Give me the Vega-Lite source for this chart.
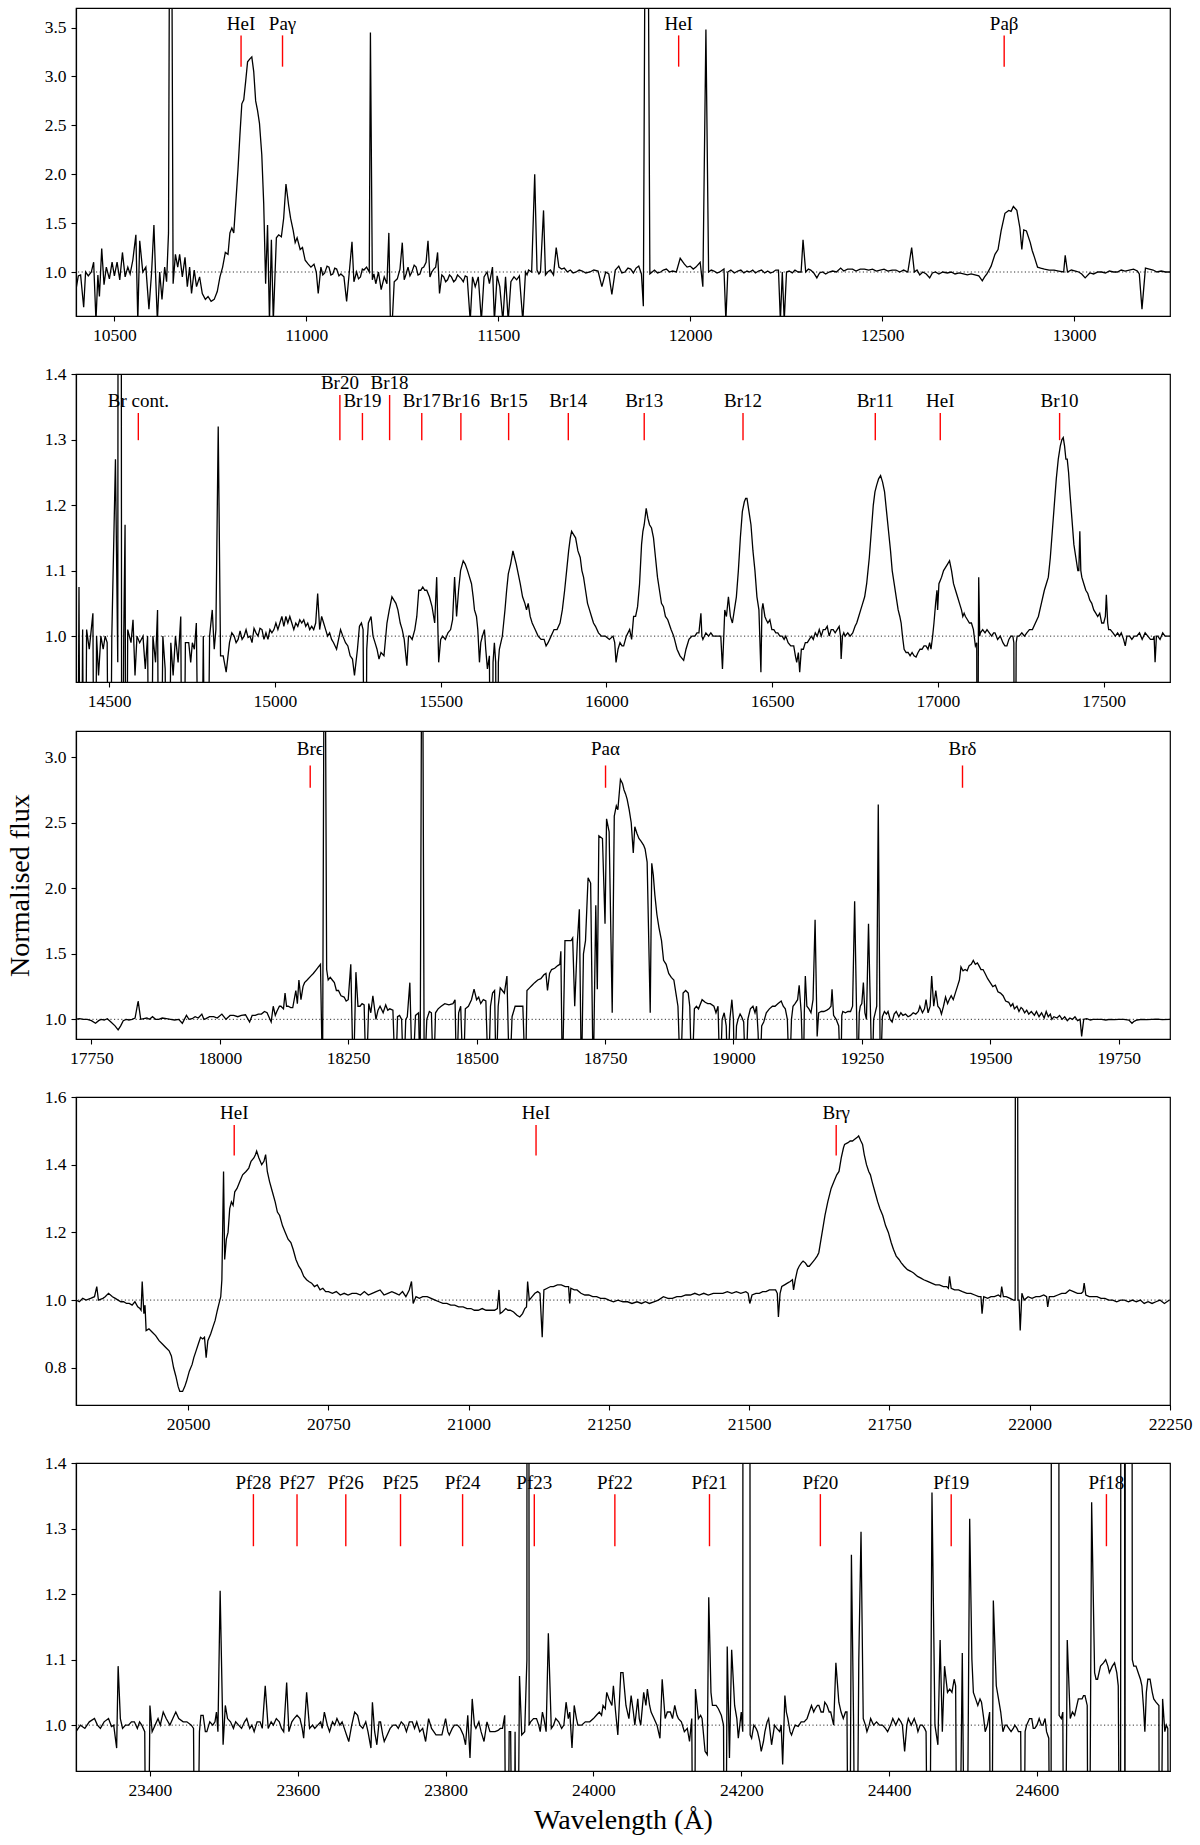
{
"$schema": "https://vega.github.io/schema/vega-lite/v6.json",
"padding": {"left": 5, "top": 7, "right": 5, "bottom": 5},
"spacing": 19,
"config": {
 "font": "Liberation Serif",
 "view": {"stroke": "black", "strokeWidth": 1.2},
 "axis": {"grid": false, "domainColor": "black", "domainWidth": 1.2, "tickColor": "black", "tickWidth": 1.1, "tickSize": 5, "labelColor": "black", "labelFont": "Liberation Serif", "labelFontSize": 17.5, "labelPadding": 5, "titleColor": "black", "titleFont": "Liberation Serif", "titleFontSize": 28, "titleFontWeight": "normal", "labelFlush": false, "labelOverlap": false}
},
"datasets": {
"l1": [{"n":"HeI","w":10830},{"n":"Paγ","w":10938},{"n":"HeI","w":11970},{"n":"Paβ","w":12818}],
"l2": [{"n":"Br cont.","w":14588,"tier":"low"},{"n":"Br20","w":15196,"tier":"high"},{"n":"Br19","w":15264,"tier":"low"},{"n":"Br18","w":15346,"tier":"high"},{"n":"Br17","w":15443,"tier":"low"},{"n":"Br16","w":15561,"tier":"low"},{"n":"Br15","w":15705,"tier":"low"},{"n":"Br14","w":15885,"tier":"low"},{"n":"Br13","w":16114,"tier":"low"},{"n":"Br12","w":16412,"tier":"low"},{"n":"Br11","w":16811,"tier":"low"},{"n":"HeI","w":17007,"tier":"low"},{"n":"Br10","w":17367,"tier":"low"}],
"l3": [{"n":"Brϵ","w":18176},{"n":"Paα","w":18751},{"n":"Brδ","w":19446}],
"l4": [{"n":"HeI","w":20582},{"n":"HeI","w":21120},{"n":"Brγ","w":21655}],
"l5": [{"n":"Pf28","w":23540},{"n":"Pf27","w":23599},{"n":"Pf26","w":23665},{"n":"Pf25","w":23739},{"n":"Pf24","w":23823},{"n":"Pf23","w":23920},{"n":"Pf22","w":24029},{"n":"Pf21","w":24157},{"n":"Pf20","w":24307},{"n":"Pf19","w":24484},{"n":"Pf18","w":24694}],
"s1": [{"w":10399,"f":0.80},{"w":10406,"f":0.96},{"w":10412,"f":0.97},{"w":10420,"f":0.64},{"w":10425,"f":1.0},{"w":10432,"f":0.96},{"w":10440,"f":1.0},{"w":10446,"f":1.1},{"w":10452,"f":0.5},{"w":10457,"f":0.97},{"w":10461,"f":0.75},{"w":10467,"f":1.24},{"w":10473,"f":0.87},{"w":10479,"f":1.05},{"w":10487,"f":0.93},{"w":10494,"f":1.1},{"w":10500,"f":0.96},{"w":10507,"f":1.1},{"w":10514,"f":0.92},{"w":10521,"f":1.2},{"w":10528,"f":0.95},{"w":10535,"f":1.05},{"w":10541,"f":0.98},{"w":10548,"f":1.12},{"w":10556,"f":1.38},{"w":10561,"f":0.5},{"w":10566,"f":1.32},{"w":10574,"f":1.0},{"w":10582,"f":1.05},{"w":10590,"f":0.62},{"w":10597,"f":1.0},{"w":10603,"f":1.48},{"w":10608,"f":0.9},{"w":10612,"f":0.5},{"w":10618,"f":1.0},{"w":10624,"f":0.72},{"w":10631,"f":1.05},{"w":10636,"f":0.9},{"w":10641,"f":1.4},{"w":10644,"f":5},{"w":10649,"f":5},{"w":10653,"f":0.88},{"w":10659,"f":1.18},{"w":10665,"f":1.05},{"w":10670,"f":1.18},{"w":10677,"f":0.95},{"w":10684,"f":1.15},{"w":10690,"f":0.85},{"w":10696,"f":1.05},{"w":10701,"f":0.78},{"w":10708,"f":1.02},{"w":10714,"f":0.85},{"w":10722,"f":0.95},{"w":10729,"f":0.78},{"w":10737,"f":0.72},{"w":10744,"f":0.75},{"w":10752,"f":0.7},{"w":10760,"f":0.72},{"w":10768,"f":0.8},{"w":10775,"f":0.95},{"w":10782,"f":1.05},{"w":10789,"f":1.2},{"w":10796,"f":1.18},{"w":10801,"f":1.4},{"w":10806,"f":1.45},{"w":10811,"f":1.4},{"w":10817,"f":1.75},{"w":10822,"f":2.05},{"w":10827,"f":2.4},{"w":10832,"f":2.72},{"w":10837,"f":2.76},{"w":10842,"f":2.95},{"w":10847,"f":3.15},{"w":10853,"f":3.18},{"w":10858,"f":3.2},{"w":10863,"f":3.05},{"w":10868,"f":2.75},{"w":10873,"f":2.65},{"w":10878,"f":2.52},{"w":10884,"f":2.2},{"w":10889,"f":1.7},{"w":10894,"f":0.88},{"w":10899,"f":1.48},{"w":10904,"f":0.5},{"w":10909,"f":1.33},{"w":10914,"f":0.5},{"w":10922,"f":1.35},{"w":10928,"f":1.38},{"w":10935,"f":1.36},{"w":10941,"f":1.55},{"w":10947,"f":1.9},{"w":10954,"f":1.68},{"w":10959,"f":1.55},{"w":10966,"f":1.42},{"w":10971,"f":1.3},{"w":10976,"f":1.35},{"w":10984,"f":1.23},{"w":10990,"f":1.25},{"w":10997,"f":1.12},{"w":11005,"f":1.08},{"w":11012,"f":1.05},{"w":11020,"f":1.08},{"w":11026,"f":1.0},{"w":11031,"f":0.78},{"w":11038,"f":1.05},{"w":11043,"f":0.97},{"w":11048,"f":0.99},{"w":11054,"f":1.06},{"w":11059,"f":1.05},{"w":11064,"f":0.97},{"w":11069,"f":0.98},{"w":11074,"f":1.04},{"w":11079,"f":1.03},{"w":11085,"f":0.96},{"w":11090,"f":0.98},{"w":11098,"f":0.95},{"w":11105,"f":0.7},{"w":11112,"f":1.0},{"w":11119,"f":1.31},{"w":11124,"f":0.9},{"w":11131,"f":1.0},{"w":11136,"f":0.93},{"w":11141,"f":0.95},{"w":11146,"f":1.03},{"w":11150,"f":1.02},{"w":11157,"f":1.05},{"w":11164,"f":1.0},{"w":11167,"f":3.45},{"w":11172,"f":0.92},{"w":11176,"f":0.98},{"w":11181,"f":0.88},{"w":11188,"f":1.0},{"w":11195,"f":0.82},{"w":11203,"f":0.95},{"w":11210,"f":0.88},{"w":11215,"f":1.4},{"w":11219,"f":0.5},{"w":11224,"f":0.5},{"w":11229,"f":0.9},{"w":11237,"f":0.93},{"w":11244,"f":1.03},{"w":11250,"f":1.3},{"w":11255,"f":0.92},{"w":11260,"f":0.98},{"w":11265,"f":1.05},{"w":11270,"f":0.96},{"w":11275,"f":1.0},{"w":11281,"f":1.07},{"w":11286,"f":1.05},{"w":11291,"f":0.97},{"w":11296,"f":0.98},{"w":11301,"f":1.04},{"w":11306,"f":1.05},{"w":11312,"f":1.1},{"w":11317,"f":1.32},{"w":11322,"f":0.95},{"w":11327,"f":1.0},{"w":11332,"f":1.03},{"w":11337,"f":1.05},{"w":11342,"f":1.2},{"w":11347,"f":0.78},{"w":11353,"f":0.97},{"w":11358,"f":0.95},{"w":11363,"f":0.9},{"w":11368,"f":0.92},{"w":11373,"f":0.97},{"w":11378,"f":0.95},{"w":11384,"f":0.9},{"w":11389,"f":0.92},{"w":11394,"f":0.97},{"w":11399,"f":0.95},{"w":11404,"f":0.93},{"w":11409,"f":0.9},{"w":11414,"f":0.96},{"w":11419,"f":0.95},{"w":11427,"f":0.5},{"w":11433,"f":0.95},{"w":11440,"f":0.85},{"w":11448,"f":0.95},{"w":11456,"f":0.5},{"w":11463,"f":0.95},{"w":11471,"f":1.0},{"w":11477,"f":0.88},{"w":11485,"f":1.05},{"w":11490,"f":0.5},{"w":11497,"f":0.96},{"w":11504,"f":0.85},{"w":11512,"f":0.5},{"w":11519,"f":0.95},{"w":11526,"f":0.5},{"w":11533,"f":0.9},{"w":11541,"f":0.95},{"w":11548,"f":0.92},{"w":11555,"f":0.96},{"w":11564,"f":0.5},{"w":11571,"f":1.0},{"w":11575,"f":0.97},{"w":11579,"f":1.02},{"w":11587,"f":1.0},{"w":11595,"f":2.0},{"w":11601,"f":1.02},{"w":11606,"f":0.98},{"w":11610,"f":1.0},{"w":11618,"f":1.63},{"w":11623,"f":0.97},{"w":11629,"f":1.0},{"w":11636,"f":1.02},{"w":11644,"f":0.97},{"w":11651,"f":1.25},{"w":11658,"f":1.05},{"w":11665,"f":1.03},{"w":11672,"f":1.04},{"w":11680,"f":1.0},{"w":11688,"f":1.02},{"w":11695,"f":0.99},{"w":11703,"f":1.0},{"w":11711,"f":1.02},{"w":11719,"f":1.01},{"w":11728,"f":0.99},{"w":11739,"f":1.0},{"w":11749,"f":1.02},{"w":11760,"f":1.01},{"w":11770,"f":0.85},{"w":11780,"f":1.0},{"w":11788,"f":0.98},{"w":11796,"f":0.77},{"w":11805,"f":1.02},{"w":11814,"f":1.06},{"w":11822,"f":0.99},{"w":11830,"f":1.0},{"w":11838,"f":1.04},{"w":11845,"f":1.03},{"w":11852,"f":0.99},{"w":11859,"f":1.04},{"w":11866,"f":1.06},{"w":11873,"f":0.98},{"w":11878,"f":0.65},{"w":11883,"f":5},{"w":11890,"f":5},{"w":11895,"f":0.98},{"w":11901,"f":1.0},{"w":11907,"f":1.02},{"w":11915,"f":0.99},{"w":11923,"f":1.0},{"w":11930,"f":1.02},{"w":11938,"f":1.03},{"w":11946,"f":1.0},{"w":11954,"f":1.01},{"w":11964,"f":1.0},{"w":11974,"f":1.14},{"w":11985,"f":1.08},{"w":11992,"f":1.05},{"w":12000,"f":1.06},{"w":12008,"f":1.03},{"w":12015,"f":1.05},{"w":12026,"f":1.1},{"w":12033,"f":0.85},{"w":12041,"f":3.48},{"w":12048,"f":1.0},{"w":12055,"f":1.02},{"w":12062,"f":1.01},{"w":12070,"f":0.99},{"w":12077,"f":1.0},{"w":12088,"f":1.03},{"w":12093,"f":0.5},{"w":12098,"f":1.0},{"w":12106,"f":1.02},{"w":12115,"f":0.99},{"w":12124,"f":1.01},{"w":12132,"f":1.02},{"w":12140,"f":0.99},{"w":12148,"f":1.01},{"w":12155,"f":1.0},{"w":12163,"f":1.02},{"w":12170,"f":0.99},{"w":12178,"f":1.01},{"w":12186,"f":1.02},{"w":12194,"f":0.99},{"w":12202,"f":1.01},{"w":12209,"f":0.99},{"w":12216,"f":1.0},{"w":12223,"f":1.02},{"w":12230,"f":1.02},{"w":12235,"f":0.5},{"w":12240,"f":1.0},{"w":12245,"f":0.5},{"w":12251,"f":1.0},{"w":12258,"f":1.01},{"w":12266,"f":0.99},{"w":12273,"f":1.02},{"w":12281,"f":1.0},{"w":12289,"f":1.0},{"w":12294,"f":1.33},{"w":12301,"f":1.0},{"w":12308,"f":1.03},{"w":12314,"f":1.02},{"w":12322,"f":0.99},{"w":12330,"f":0.94},{"w":12337,"f":0.99},{"w":12345,"f":1.0},{"w":12353,"f":0.98},{"w":12362,"f":1.0},{"w":12371,"f":1.01},{"w":12381,"f":1.0},{"w":12392,"f":1.04},{"w":12400,"f":1.01},{"w":12410,"f":1.03},{"w":12423,"f":1.03},{"w":12432,"f":1.01},{"w":12443,"f":1.03},{"w":12454,"f":1.03},{"w":12465,"f":1.02},{"w":12475,"f":1.03},{"w":12485,"f":1.01},{"w":12495,"f":1.02},{"w":12505,"f":1.03},{"w":12515,"f":1.01},{"w":12526,"f":1.02},{"w":12536,"f":1.02},{"w":12546,"f":1.0},{"w":12556,"f":1.02},{"w":12567,"f":1.0},{"w":12577,"f":1.25},{"w":12584,"f":1.0},{"w":12591,"f":1.02},{"w":12598,"f":0.97},{"w":12606,"f":1.0},{"w":12615,"f":0.98},{"w":12624,"f":0.94},{"w":12631,"f":0.99},{"w":12639,"f":1.0},{"w":12648,"f":0.98},{"w":12658,"f":1.0},{"w":12670,"f":0.99},{"w":12680,"f":1.0},{"w":12690,"f":0.98},{"w":12701,"f":0.99},{"w":12712,"f":0.98},{"w":12722,"f":0.97},{"w":12732,"f":0.98},{"w":12742,"f":0.97},{"w":12752,"f":0.96},{"w":12761,"f":0.91},{"w":12767,"f":0.95},{"w":12773,"f":0.98},{"w":12784,"f":1.06},{"w":12794,"f":1.18},{"w":12802,"f":1.23},{"w":12810,"f":1.42},{"w":12820,"f":1.6},{"w":12830,"f":1.63},{"w":12836,"f":1.62},{"w":12842,"f":1.67},{"w":12851,"f":1.63},{"w":12859,"f":1.45},{"w":12864,"f":1.23},{"w":12869,"f":1.43},{"w":12876,"f":1.42},{"w":12886,"f":1.3},{"w":12891,"f":1.22},{"w":12897,"f":1.15},{"w":12905,"f":1.05},{"w":12913,"f":1.04},{"w":12923,"f":1.03},{"w":12935,"f":1.02},{"w":12948,"f":1.02},{"w":12960,"f":1.01},{"w":12973,"f":1.0},{"w":12977,"f":1.17},{"w":12983,"f":1.0},{"w":12993,"f":1.02},{"w":13004,"f":1.01},{"w":13012,"f":1.0},{"w":13020,"f":0.98},{"w":13029,"f":0.94},{"w":13041,"f":0.99},{"w":13051,"f":0.98},{"w":13062,"f":1.0},{"w":13072,"f":1.0},{"w":13082,"f":0.99},{"w":13092,"f":1.01},{"w":13103,"f":1.0},{"w":13113,"f":1.0},{"w":13123,"f":1.02},{"w":13133,"f":1.01},{"w":13144,"f":1.02},{"w":13155,"f":1.03},{"w":13165,"f":1.01},{"w":13170,"f":0.98},{"w":13177,"f":0.62},{"w":13186,"f":1.04},{"w":13196,"f":1.03},{"w":13206,"f":1.02},{"w":13216,"f":1.0},{"w":13227,"f":1.01},{"w":13238,"f":1.0},{"w":13250,"f":1.0}],
"s2": [{"w":14398,"f":1.0},{"w":14404,"f":0.5},{"w":14409,"f":1.075},{"w":14414,"f":0.5},{"w":14420,"f":1.01},{"w":14426,"f":0.5},{"w":14432,"f":1.01},{"w":14440,"f":0.98},{"w":14446,"f":1.01},{"w":14451,"f":1.035},{"w":14456,"f":0.5},{"w":14462,"f":1.0},{"w":14468,"f":0.94},{"w":14475,"f":1.0},{"w":14482,"f":0.98},{"w":14488,"f":1.0},{"w":14494,"f":0.99},{"w":14501,"f":0.5},{"w":14508,"f":1.0},{"w":14519,"f":1.27},{"w":14526,"f":0.96},{"w":14532,"f":5},{"w":14538,"f":0.5},{"w":14544,"f":1.0},{"w":14548,"f":1.17},{"w":14551,"f":0.5},{"w":14556,"f":1.01},{"w":14566,"f":0.99},{"w":14572,"f":1.025},{"w":14578,"f":0.94},{"w":14584,"f":1.0},{"w":14592,"f":0.99},{"w":14602,"f":1.0},{"w":14609,"f":0.95},{"w":14616,"f":1.0},{"w":14623,"f":0.5},{"w":14632,"f":1.0},{"w":14640,"f":0.96},{"w":14646,"f":1.04},{"w":14652,"f":0.5},{"w":14662,"f":1.0},{"w":14669,"f":0.95},{"w":14676,"f":0.5},{"w":14686,"f":0.99},{"w":14693,"f":0.94},{"w":14700,"f":1.0},{"w":14708,"f":0.96},{"w":14716,"f":1.03},{"w":14722,"f":0.5},{"w":14730,"f":0.99},{"w":14740,"f":0.99},{"w":14746,"f":0.96},{"w":14751,"f":0.99},{"w":14757,"f":0.98},{"w":14763,"f":1.02},{"w":14775,"f":0.5},{"w":14784,"f":1.0},{"w":14793,"f":0.5},{"w":14803,"f":1.0},{"w":14811,"f":1.04},{"w":14817,"f":0.98},{"w":14822,"f":1.01},{"w":14829,"f":1.32},{"w":14836,"f":0.97},{"w":14844,"f":0.97},{"w":14853,"f":0.945},{"w":14863,"f":0.99},{"w":14870,"f":1.005},{"w":14877,"f":1.0},{"w":14883,"f":0.99},{"w":14889,"f":0.995},{"w":14895,"f":1.008},{"w":14901,"f":0.995},{"w":14907,"f":1.0},{"w":14913,"f":1.01},{"w":14919,"f":0.998},{"w":14925,"f":1.0},{"w":14931,"f":0.99},{"w":14937,"f":1.012},{"w":14943,"f":1.005},{"w":14949,"f":1.0},{"w":14955,"f":1.012},{"w":14961,"f":1.01},{"w":14967,"f":0.995},{"w":14973,"f":1.005},{"w":14979,"f":0.995},{"w":14985,"f":1.01},{"w":14991,"f":1.005},{"w":14997,"f":1.01},{"w":15003,"f":1.02},{"w":15009,"f":1.01},{"w":15015,"f":1.02},{"w":15021,"f":1.03},{"w":15027,"f":1.015},{"w":15033,"f":1.03},{"w":15039,"f":1.02},{"w":15045,"f":1.03},{"w":15051,"f":1.02},{"w":15057,"f":1.01},{"w":15063,"f":1.02},{"w":15069,"f":1.015},{"w":15075,"f":1.025},{"w":15081,"f":1.02},{"w":15087,"f":1.025},{"w":15093,"f":1.015},{"w":15099,"f":1.02},{"w":15105,"f":1.01},{"w":15111,"f":1.015},{"w":15117,"f":1.01},{"w":15123,"f":1.02},{"w":15129,"f":1.065},{"w":15135,"f":1.01},{"w":15141,"f":1.03},{"w":15147,"f":1.02},{"w":15153,"f":1.01},{"w":15159,"f":1.0},{"w":15165,"f":1.005},{"w":15171,"f":0.995},{"w":15177,"f":0.99},{"w":15186,"f":0.98},{"w":15192,"f":0.995},{"w":15198,"f":1.01},{"w":15205,"f":1.0},{"w":15213,"f":0.99},{"w":15220,"f":0.985},{"w":15227,"f":0.97},{"w":15234,"f":0.965},{"w":15240,"f":0.94},{"w":15249,"f":0.98},{"w":15255,"f":1.015},{"w":15261,"f":1.02},{"w":15266,"f":1.01},{"w":15272,"f":0.5},{"w":15277,"f":0.98},{"w":15282,"f":1.02},{"w":15290,"f":1.03},{"w":15296,"f":1.0},{"w":15302,"f":0.99},{"w":15308,"f":0.98},{"w":15314,"f":0.965},{"w":15320,"f":0.975},{"w":15329,"f":0.97},{"w":15338,"f":1.02},{"w":15345,"f":1.04},{"w":15353,"f":1.06},{"w":15359,"f":1.055},{"w":15365,"f":1.05},{"w":15371,"f":1.04},{"w":15378,"f":1.02},{"w":15384,"f":1.01},{"w":15390,"f":0.995},{"w":15398,"f":0.955},{"w":15403,"f":1.0},{"w":15407,"f":1.0},{"w":15414,"f":0.995},{"w":15422,"f":1.01},{"w":15428,"f":1.03},{"w":15434,"f":1.07},{"w":15440,"f":1.07},{"w":15446,"f":1.075},{"w":15452,"f":1.07},{"w":15458,"f":1.07},{"w":15466,"f":1.06},{"w":15474,"f":1.045},{"w":15482,"f":1.02},{"w":15488,"f":1.09},{"w":15494,"f":0.96},{"w":15500,"f":0.995},{"w":15506,"f":1.0},{"w":15514,"f":0.995},{"w":15522,"f":1.005},{"w":15530,"f":1.01},{"w":15536,"f":1.025},{"w":15542,"f":1.09},{"w":15548,"f":1.03},{"w":15554,"f":1.07},{"w":15560,"f":1.1},{"w":15568,"f":1.115},{"w":15574,"f":1.11},{"w":15581,"f":1.1},{"w":15587,"f":1.09},{"w":15593,"f":1.08},{"w":15598,"f":1.06},{"w":15602,"f":1.04},{"w":15608,"f":1.03},{"w":15612,"f":1.01},{"w":15617,"f":0.96},{"w":15621,"f":0.99},{"w":15626,"f":1.0},{"w":15632,"f":1.01},{"w":15636,"f":0.98},{"w":15641,"f":0.95},{"w":15647,"f":0.97},{"w":15653,"f":0.5},{"w":15658,"f":0.96},{"w":15662,"f":0.99},{"w":15666,"f":0.96},{"w":15670,"f":0.5},{"w":15674,"f":0.96},{"w":15677,"f":0.98},{"w":15686,"f":1.0},{"w":15690,"f":1.02},{"w":15694,"f":1.04},{"w":15699,"f":1.07},{"w":15704,"f":1.095},{"w":15711,"f":1.11},{"w":15718,"f":1.13},{"w":15723,"f":1.12},{"w":15728,"f":1.11},{"w":15734,"f":1.095},{"w":15740,"f":1.08},{"w":15747,"f":1.06},{"w":15754,"f":1.05},{"w":15759,"f":1.04},{"w":15764,"f":1.05},{"w":15770,"f":1.03},{"w":15776,"f":1.02},{"w":15785,"f":1.01},{"w":15794,"f":1.0},{"w":15803,"f":0.995},{"w":15812,"f":0.995},{"w":15818,"f":0.985},{"w":15824,"f":0.99},{"w":15833,"f":1.0},{"w":15842,"f":1.01},{"w":15851,"f":1.01},{"w":15860,"f":1.02},{"w":15867,"f":1.04},{"w":15874,"f":1.07},{"w":15880,"f":1.1},{"w":15886,"f":1.13},{"w":15891,"f":1.15},{"w":15895,"f":1.16},{"w":15901,"f":1.155},{"w":15907,"f":1.15},{"w":15914,"f":1.13},{"w":15921,"f":1.12},{"w":15926,"f":1.1},{"w":15931,"f":1.09},{"w":15937,"f":1.07},{"w":15943,"f":1.05},{"w":15949,"f":1.04},{"w":15955,"f":1.03},{"w":15961,"f":1.02},{"w":15967,"f":1.015},{"w":15976,"f":1.005},{"w":15985,"f":1.0},{"w":15997,"f":1.0},{"w":16009,"f":0.995},{"w":16020,"f":1.0},{"w":16025,"f":0.99},{"w":16029,"f":0.96},{"w":16035,"f":0.98},{"w":16041,"f":0.99},{"w":16047,"f":0.985},{"w":16052,"f":0.985},{"w":16060,"f":1.0},{"w":16070,"f":1.01},{"w":16076,"f":0.995},{"w":16082,"f":1.03},{"w":16088,"f":1.03},{"w":16094,"f":1.045},{"w":16100,"f":1.08},{"w":16106,"f":1.14},{"w":16110,"f":1.16},{"w":16114,"f":1.17},{"w":16120,"f":1.195},{"w":16125,"f":1.18},{"w":16130,"f":1.17},{"w":16136,"f":1.165},{"w":16142,"f":1.15},{"w":16148,"f":1.12},{"w":16154,"f":1.09},{"w":16160,"f":1.07},{"w":16166,"f":1.05},{"w":16172,"f":1.045},{"w":16178,"f":1.03},{"w":16185,"f":1.025},{"w":16195,"f":1.01},{"w":16203,"f":1.0},{"w":16213,"f":0.98},{"w":16222,"f":0.97},{"w":16233,"f":0.963},{"w":16240,"f":0.98},{"w":16249,"f":0.995},{"w":16258,"f":1.0},{"w":16267,"f":1.0},{"w":16273,"f":1.005},{"w":16279,"f":1.005},{"w":16285,"f":1.035},{"w":16288,"f":1.0},{"w":16291,"f":0.995},{"w":16300,"f":1.005},{"w":16308,"f":1.0},{"w":16315,"f":1.005},{"w":16322,"f":1.0},{"w":16330,"f":1.0},{"w":16338,"f":1.0},{"w":16345,"f":1.0},{"w":16350,"f":0.95},{"w":16354,"f":1.0},{"w":16357,"f":1.04},{"w":16362,"f":1.03},{"w":16368,"f":1.06},{"w":16374,"f":1.03},{"w":16380,"f":1.02},{"w":16386,"f":1.04},{"w":16392,"f":1.06},{"w":16398,"f":1.1},{"w":16404,"f":1.15},{"w":16410,"f":1.19},{"w":16416,"f":1.205},{"w":16420,"f":1.21},{"w":16424,"f":1.21},{"w":16430,"f":1.19},{"w":16436,"f":1.17},{"w":16442,"f":1.13},{"w":16448,"f":1.1},{"w":16454,"f":1.06},{"w":16460,"f":1.04},{"w":16466,"f":0.945},{"w":16469,"f":1.04},{"w":16472,"f":1.05},{"w":16478,"f":1.03},{"w":16482,"f":1.025},{"w":16487,"f":1.02},{"w":16493,"f":1.025},{"w":16499,"f":1.01},{"w":16505,"f":1.01},{"w":16511,"f":1.005},{"w":16517,"f":1.005},{"w":16523,"f":1.0},{"w":16530,"f":1.0},{"w":16536,"f":0.995},{"w":16541,"f":1.0},{"w":16548,"f":0.99},{"w":16556,"f":0.985},{"w":16565,"f":0.985},{"w":16570,"f":0.97},{"w":16574,"f":0.96},{"w":16579,"f":0.975},{"w":16583,"f":0.945},{"w":16588,"f":0.98},{"w":16594,"f":0.98},{"w":16600,"f":0.99},{"w":16606,"f":0.99},{"w":16612,"f":0.995},{"w":16618,"f":1.0},{"w":16624,"f":0.995},{"w":16630,"f":1.005},{"w":16636,"f":1.0},{"w":16642,"f":1.01},{"w":16648,"f":1.0},{"w":16654,"f":1.01},{"w":16660,"f":1.01},{"w":16666,"f":1.015},{"w":16672,"f":1.0},{"w":16678,"f":1.01},{"w":16684,"f":1.01},{"w":16690,"f":1.005},{"w":16696,"f":1.01},{"w":16702,"f":1.015},{"w":16706,"f":1.0},{"w":16708,"f":0.965},{"w":16712,"f":1.0},{"w":16716,"f":1.005},{"w":16720,"f":1.0},{"w":16728,"f":1.005},{"w":16735,"f":1.0},{"w":16743,"f":1.005},{"w":16750,"f":1.015},{"w":16755,"f":1.02},{"w":16761,"f":1.03},{"w":16767,"f":1.04},{"w":16773,"f":1.05},{"w":16779,"f":1.06},{"w":16785,"f":1.08},{"w":16789,"f":1.1},{"w":16793,"f":1.12},{"w":16799,"f":1.16},{"w":16805,"f":1.2},{"w":16810,"f":1.22},{"w":16815,"f":1.23},{"w":16821,"f":1.24},{"w":16827,"f":1.245},{"w":16833,"f":1.235},{"w":16839,"f":1.22},{"w":16845,"f":1.19},{"w":16851,"f":1.16},{"w":16857,"f":1.13},{"w":16862,"f":1.1},{"w":16868,"f":1.08},{"w":16874,"f":1.06},{"w":16880,"f":1.04},{"w":16885,"f":1.03},{"w":16889,"f":1.02},{"w":16893,"f":1.0},{"w":16898,"f":0.98},{"w":16904,"f":0.975},{"w":16910,"f":0.975},{"w":16916,"f":0.97},{"w":16922,"f":0.975},{"w":16928,"f":0.97},{"w":16934,"f":0.968},{"w":16940,"f":0.975},{"w":16946,"f":0.98},{"w":16952,"f":0.98},{"w":16958,"f":0.985},{"w":16964,"f":0.985},{"w":16970,"f":0.98},{"w":16975,"f":0.99},{"w":16979,"f":0.98},{"w":16984,"f":1.0},{"w":16988,"f":1.02},{"w":16993,"f":1.05},{"w":16997,"f":1.07},{"w":16999,"f":1.04},{"w":17003,"f":1.08},{"w":17007,"f":1.085},{"w":17011,"f":1.09},{"w":17017,"f":1.1},{"w":17023,"f":1.105},{"w":17029,"f":1.11},{"w":17035,"f":1.115},{"w":17041,"f":1.1},{"w":17047,"f":1.08},{"w":17053,"f":1.07},{"w":17059,"f":1.06},{"w":17065,"f":1.05},{"w":17071,"f":1.04},{"w":17075,"f":1.03},{"w":17079,"f":1.035},{"w":17083,"f":1.03},{"w":17089,"f":1.025},{"w":17095,"f":1.02},{"w":17101,"f":1.02},{"w":17107,"f":1.01},{"w":17113,"f":0.985},{"w":17117,"f":0.99},{"w":17119,"f":0.5},{"w":17122,"f":1.0},{"w":17123,"f":1.09},{"w":17126,"f":1.0},{"w":17128,"f":1.005},{"w":17135,"f":1.01},{"w":17142,"f":1.005},{"w":17148,"f":1.01},{"w":17155,"f":1.005},{"w":17162,"f":1.0},{"w":17168,"f":1.005},{"w":17172,"f":1.005},{"w":17180,"f":0.995},{"w":17188,"f":1.0},{"w":17196,"f":0.99},{"w":17202,"f":0.985},{"w":17208,"f":0.985},{"w":17214,"f":0.995},{"w":17220,"f":1.0},{"w":17226,"f":1.0},{"w":17229,"f":0.99},{"w":17232,"f":0.5},{"w":17236,"f":0.99},{"w":17239,"f":1.0},{"w":17245,"f":1.0},{"w":17253,"f":1.005},{"w":17261,"f":1.0},{"w":17268,"f":1.005},{"w":17276,"f":1.01},{"w":17285,"f":1.01},{"w":17294,"f":1.02},{"w":17303,"f":1.03},{"w":17312,"f":1.05},{"w":17321,"f":1.07},{"w":17327,"f":1.08},{"w":17333,"f":1.09},{"w":17339,"f":1.12},{"w":17345,"f":1.16},{"w":17351,"f":1.2},{"w":17357,"f":1.24},{"w":17363,"f":1.27},{"w":17369,"f":1.29},{"w":17374,"f":1.3},{"w":17378,"f":1.303},{"w":17382,"f":1.29},{"w":17386,"f":1.27},{"w":17390,"f":1.27},{"w":17394,"f":1.25},{"w":17398,"f":1.22},{"w":17404,"f":1.18},{"w":17410,"f":1.14},{"w":17416,"f":1.12},{"w":17422,"f":1.1},{"w":17425,"f":1.1},{"w":17428,"f":1.16},{"w":17431,"f":1.1},{"w":17434,"f":1.09},{"w":17440,"f":1.08},{"w":17446,"f":1.07},{"w":17452,"f":1.065},{"w":17458,"f":1.055},{"w":17464,"f":1.05},{"w":17470,"f":1.04},{"w":17476,"f":1.035},{"w":17482,"f":1.03},{"w":17488,"f":1.035},{"w":17494,"f":1.02},{"w":17500,"f":1.02},{"w":17505,"f":1.03},{"w":17508,"f":1.063},{"w":17512,"f":1.02},{"w":17515,"f":1.01},{"w":17520,"f":1.01},{"w":17528,"f":1.005},{"w":17535,"f":1.0},{"w":17542,"f":1.005},{"w":17548,"f":1.0},{"w":17553,"f":1.005},{"w":17560,"f":0.995},{"w":17565,"f":0.985},{"w":17570,"f":1.0},{"w":17578,"f":1.0},{"w":17585,"f":0.995},{"w":17592,"f":1.0},{"w":17600,"f":1.0},{"w":17608,"f":1.005},{"w":17616,"f":0.995},{"w":17625,"f":1.005},{"w":17633,"f":1.0},{"w":17641,"f":0.995},{"w":17649,"f":0.995},{"w":17652,"f":1.0},{"w":17655,"f":0.96},{"w":17659,"f":1.0},{"w":17663,"f":1.0},{"w":17670,"f":0.995},{"w":17678,"f":1.005},{"w":17685,"f":1.0},{"w":17692,"f":1.0},{"w":17700,"f":1.0}],
"s3": [{"w":17719,"f":1.0},{"w":17727,"f":1.005},{"w":17735,"f":1.0},{"w":17742,"f":1.0},{"w":17750,"f":0.99},{"w":17758,"f":0.97},{"w":17764,"f":0.99},{"w":17769,"f":1.0},{"w":17775,"f":0.995},{"w":17781,"f":1.005},{"w":17788,"f":0.98},{"w":17796,"f":0.95},{"w":17802,"f":0.92},{"w":17807,"f":0.95},{"w":17812,"f":0.99},{"w":17818,"f":1.0},{"w":17823,"f":0.995},{"w":17829,"f":1.0},{"w":17835,"f":1.01},{"w":17841,"f":1.14},{"w":17846,"f":1.0},{"w":17852,"f":1.005},{"w":17858,"f":1.01},{"w":17863,"f":1.0},{"w":17869,"f":1.02},{"w":17875,"f":1.0},{"w":17881,"f":1.0},{"w":17888,"f":1.01},{"w":17896,"f":1.005},{"w":17904,"f":1.0},{"w":17912,"f":0.995},{"w":17920,"f":1.0},{"w":17927,"f":0.97},{"w":17931,"f":1.0},{"w":17935,"f":1.03},{"w":17940,"f":1.0},{"w":17946,"f":1.005},{"w":17952,"f":1.02},{"w":17958,"f":1.01},{"w":17965,"f":1.04},{"w":17969,"f":1.0},{"w":17973,"f":1.005},{"w":17980,"f":1.02},{"w":17988,"f":1.02},{"w":17995,"f":1.01},{"w":18004,"f":1.04},{"w":18012,"f":1.0},{"w":18020,"f":1.03},{"w":18027,"f":1.03},{"w":18035,"f":1.02},{"w":18042,"f":1.03},{"w":18050,"f":1.035},{"w":18058,"f":0.98},{"w":18063,"f":1.03},{"w":18069,"f":1.03},{"w":18075,"f":1.04},{"w":18081,"f":1.04},{"w":18087,"f":1.06},{"w":18092,"f":1.05},{"w":18100,"f":0.98},{"w":18104,"f":1.1},{"w":18108,"f":1.03},{"w":18111,"f":1.06},{"w":18116,"f":1.1},{"w":18119,"f":1.1},{"w":18124,"f":1.08},{"w":18127,"f":1.2},{"w":18130,"f":1.1},{"w":18133,"f":1.1},{"w":18138,"f":1.09},{"w":18142,"f":1.09},{"w":18148,"f":1.22},{"w":18151,"f":1.12},{"w":18154,"f":1.3},{"w":18158,"f":1.15},{"w":18162,"f":1.25},{"w":18165,"f":1.28},{"w":18170,"f":1.3},{"w":18177,"f":1.33},{"w":18182,"f":1.35},{"w":18188,"f":1.38},{"w":18192,"f":1.4},{"w":18196,"f":1.42},{"w":18200,"f":0.5},{"w":18204,"f":5},{"w":18208,"f":1.38},{"w":18211,"f":1.3},{"w":18215,"f":1.32},{"w":18219,"f":1.3},{"w":18223,"f":1.28},{"w":18227,"f":1.22},{"w":18231,"f":1.22},{"w":18236,"f":1.18},{"w":18242,"f":1.17},{"w":18246,"f":1.14},{"w":18250,"f":1.15},{"w":18255,"f":1.42},{"w":18260,"f":0.5},{"w":18265,"f":1.36},{"w":18269,"f":1.1},{"w":18273,"f":1.1},{"w":18277,"f":1.12},{"w":18281,"f":1.11},{"w":18285,"f":0.5},{"w":18290,"f":1.12},{"w":18294,"f":1.05},{"w":18298,"f":1.18},{"w":18304,"f":1.0},{"w":18308,"f":1.07},{"w":18312,"f":1.1},{"w":18318,"f":1.05},{"w":18323,"f":1.11},{"w":18327,"f":1.07},{"w":18331,"f":1.08},{"w":18337,"f":1.07},{"w":18342,"f":0.5},{"w":18346,"f":1.02},{"w":18350,"f":1.03},{"w":18354,"f":1.0},{"w":18358,"f":0.5},{"w":18362,"f":1.0},{"w":18365,"f":1.02},{"w":18370,"f":1.28},{"w":18375,"f":0.5},{"w":18381,"f":1.03},{"w":18387,"f":1.05},{"w":18390,"f":0.5},{"w":18394,"f":5},{"w":18398,"f":0.5},{"w":18403,"f":1.0},{"w":18408,"f":1.06},{"w":18412,"f":1.05},{"w":18416,"f":0.5},{"w":18420,"f":1.05},{"w":18425,"f":1.08},{"w":18431,"f":1.1},{"w":18438,"f":1.12},{"w":18446,"f":1.11},{"w":18454,"f":1.12},{"w":18458,"f":1.15},{"w":18461,"f":0.5},{"w":18465,"f":1.05},{"w":18469,"f":1.1},{"w":18474,"f":0.5},{"w":18478,"f":1.08},{"w":18484,"f":1.1},{"w":18490,"f":1.15},{"w":18495,"f":1.23},{"w":18500,"f":1.15},{"w":18504,"f":1.17},{"w":18508,"f":1.12},{"w":18513,"f":1.15},{"w":18518,"f":1.14},{"w":18523,"f":0.5},{"w":18527,"f":1.1},{"w":18531,"f":1.2},{"w":18535,"f":1.22},{"w":18538,"f":0.5},{"w":18542,"f":1.1},{"w":18546,"f":1.24},{"w":18550,"f":1.22},{"w":18554,"f":1.2},{"w":18559,"f":1.33},{"w":18564,"f":0.5},{"w":18569,"f":1.02},{"w":18575,"f":1.1},{"w":18581,"f":1.1},{"w":18586,"f":1.1},{"w":18590,"f":1.1},{"w":18595,"f":0.5},{"w":18598,"f":1.22},{"w":18603,"f":1.24},{"w":18608,"f":1.26},{"w":18613,"f":1.28},{"w":18619,"f":1.3},{"w":18625,"f":1.31},{"w":18631,"f":1.34},{"w":18635,"f":1.35},{"w":18638,"f":1.22},{"w":18642,"f":1.35},{"w":18646,"f":1.38},{"w":18652,"f":1.39},{"w":18658,"f":1.41},{"w":18662,"f":1.42},{"w":18664,"f":1.52},{"w":18667,"f":0.5},{"w":18672,"f":1.6},{"w":18680,"f":1.6},{"w":18684,"f":1.6},{"w":18687,"f":1.62},{"w":18691,"f":1.1},{"w":18696,"f":1.58},{"w":18700,"f":1.84},{"w":18704,"f":0.5},{"w":18708,"f":1.5},{"w":18712,"f":1.6},{"w":18717,"f":2.08},{"w":18722,"f":2.04},{"w":18727,"f":0.5},{"w":18732,"f":1.87},{"w":18735,"f":1.23},{"w":18738,"f":2.4},{"w":18745,"f":2.38},{"w":18750,"f":1.73},{"w":18753,"f":2.53},{"w":18758,"f":2.43},{"w":18764,"f":1.05},{"w":18768,"f":2.55},{"w":18772,"f":2.63},{"w":18775,"f":2.6},{"w":18780,"f":2.83},{"w":18784,"f":2.8},{"w":18787,"f":2.75},{"w":18790,"f":2.72},{"w":18793,"f":2.68},{"w":18797,"f":2.6},{"w":18801,"f":2.5},{"w":18805,"f":2.27},{"w":18808,"f":2.47},{"w":18812,"f":2.42},{"w":18816,"f":2.38},{"w":18820,"f":2.36},{"w":18825,"f":2.33},{"w":18828,"f":2.3},{"w":18832,"f":2.2},{"w":18838,"f":1.05},{"w":18841,"f":2.19},{"w":18844,"f":2.1},{"w":18847,"f":1.95},{"w":18851,"f":1.8},{"w":18855,"f":1.7},{"w":18860,"f":1.6},{"w":18864,"f":1.45},{"w":18869,"f":1.42},{"w":18874,"f":1.35},{"w":18879,"f":1.32},{"w":18884,"f":1.3},{"w":18888,"f":1.2},{"w":18892,"f":1.1},{"w":18897,"f":0.5},{"w":18902,"f":1.2},{"w":18907,"f":1.22},{"w":18912,"f":1.2},{"w":18915,"f":1.1},{"w":18919,"f":0.5},{"w":18924,"f":1.08},{"w":18928,"f":1.1},{"w":18932,"f":1.08},{"w":18939,"f":1.15},{"w":18945,"f":1.13},{"w":18950,"f":1.12},{"w":18955,"f":1.12},{"w":18962,"f":1.1},{"w":18966,"f":1.05},{"w":18970,"f":1.1},{"w":18974,"f":0.5},{"w":18978,"f":1.0},{"w":18982,"f":1.05},{"w":18986,"f":0.95},{"w":18989,"f":0.5},{"w":18993,"f":1.0},{"w":18997,"f":1.15},{"w":19000,"f":1.0},{"w":19002,"f":0.5},{"w":19006,"f":0.95},{"w":19009,"f":1.0},{"w":19013,"f":1.04},{"w":19016,"f":1.02},{"w":19020,"f":0.98},{"w":19024,"f":0.5},{"w":19028,"f":1.0},{"w":19033,"f":1.08},{"w":19038,"f":1.1},{"w":19042,"f":1.05},{"w":19045,"f":1.1},{"w":19048,"f":0.9},{"w":19051,"f":0.5},{"w":19055,"f":0.95},{"w":19059,"f":0.98},{"w":19064,"f":1.05},{"w":19070,"f":1.08},{"w":19076,"f":1.1},{"w":19081,"f":1.1},{"w":19087,"f":1.12},{"w":19093,"f":1.14},{"w":19097,"f":1.1},{"w":19101,"f":1.08},{"w":19105,"f":1.0},{"w":19109,"f":0.5},{"w":19113,"f":1.0},{"w":19116,"f":1.1},{"w":19120,"f":1.12},{"w":19125,"f":1.15},{"w":19128,"f":1.26},{"w":19132,"f":1.05},{"w":19136,"f":0.5},{"w":19138,"f":1.05},{"w":19140,"f":1.33},{"w":19143,"f":1.1},{"w":19147,"f":1.08},{"w":19151,"f":1.05},{"w":19155,"f":1.15},{"w":19159,"f":1.76},{"w":19163,"f":0.87},{"w":19166,"f":1.05},{"w":19171,"f":1.06},{"w":19176,"f":1.06},{"w":19182,"f":1.07},{"w":19186,"f":1.08},{"w":19190,"f":1.1},{"w":19192,"f":1.23},{"w":19195,"f":1.03},{"w":19200,"f":1.0},{"w":19205,"f":0.95},{"w":19209,"f":0.5},{"w":19211,"f":1.03},{"w":19213,"f":1.06},{"w":19218,"f":1.05},{"w":19223,"f":1.06},{"w":19228,"f":1.06},{"w":19232,"f":1.1},{"w":19236,"f":1.9},{"w":19240,"f":1.0},{"w":19242,"f":0.5},{"w":19245,"f":1.05},{"w":19247,"f":1.1},{"w":19250,"f":1.12},{"w":19253,"f":1.28},{"w":19256,"f":1.05},{"w":19259,"f":1.0},{"w":19263,"f":1.73},{"w":19266,"f":1.2},{"w":19270,"f":0.5},{"w":19273,"f":1.0},{"w":19276,"f":1.05},{"w":19279,"f":1.1},{"w":19282,"f":2.64},{"w":19285,"f":1.1},{"w":19286,"f":0.5},{"w":19290,"f":1.02},{"w":19294,"f":1.06},{"w":19298,"f":1.04},{"w":19301,"f":1.06},{"w":19305,"f":1.0},{"w":19309,"f":0.98},{"w":19313,"f":1.04},{"w":19317,"f":1.06},{"w":19322,"f":1.02},{"w":19326,"f":1.05},{"w":19330,"f":1.03},{"w":19335,"f":1.04},{"w":19340,"f":1.02},{"w":19345,"f":1.03},{"w":19350,"f":1.05},{"w":19355,"f":1.04},{"w":19360,"f":1.06},{"w":19363,"f":1.1},{"w":19368,"f":1.05},{"w":19372,"f":1.08},{"w":19375,"f":1.15},{"w":19379,"f":1.05},{"w":19383,"f":1.1},{"w":19386,"f":1.33},{"w":19390,"f":1.1},{"w":19394,"f":1.22},{"w":19398,"f":1.1},{"w":19402,"f":1.08},{"w":19405,"f":1.04},{"w":19409,"f":1.1},{"w":19413,"f":1.17},{"w":19417,"f":1.12},{"w":19420,"f":1.15},{"w":19424,"f":1.18},{"w":19428,"f":1.15},{"w":19432,"f":1.2},{"w":19436,"f":1.25},{"w":19440,"f":1.3},{"w":19443,"f":1.4},{"w":19447,"f":1.37},{"w":19451,"f":1.38},{"w":19455,"f":1.37},{"w":19459,"f":1.41},{"w":19463,"f":1.42},{"w":19467,"f":1.45},{"w":19471,"f":1.42},{"w":19475,"f":1.43},{"w":19478,"f":1.41},{"w":19482,"f":1.38},{"w":19486,"f":1.38},{"w":19490,"f":1.35},{"w":19495,"f":1.31},{"w":19500,"f":1.28},{"w":19505,"f":1.25},{"w":19510,"f":1.26},{"w":19515,"f":1.21},{"w":19520,"f":1.2},{"w":19525,"f":1.18},{"w":19530,"f":1.14},{"w":19536,"f":1.13},{"w":19540,"f":1.1},{"w":19544,"f":1.12},{"w":19547,"f":1.08},{"w":19552,"f":1.1},{"w":19556,"f":1.06},{"w":19560,"f":1.09},{"w":19563,"f":1.08},{"w":19567,"f":1.05},{"w":19571,"f":1.07},{"w":19575,"f":1.04},{"w":19580,"f":1.06},{"w":19586,"f":1.03},{"w":19590,"f":1.06},{"w":19595,"f":1.02},{"w":19600,"f":1.05},{"w":19605,"f":1.01},{"w":19609,"f":1.06},{"w":19613,"f":1.02},{"w":19617,"f":1.04},{"w":19620,"f":1.0},{"w":19624,"f":1.02},{"w":19630,"f":1.01},{"w":19635,"f":1.03},{"w":19640,"f":1.0},{"w":19645,"f":1.02},{"w":19650,"f":0.99},{"w":19655,"f":1.01},{"w":19660,"f":1.0},{"w":19665,"f":1.02},{"w":19670,"f":0.99},{"w":19675,"f":1.0},{"w":19678,"f":0.87},{"w":19682,"f":1.0},{"w":19688,"f":1.005},{"w":19695,"f":0.995},{"w":19700,"f":1.0},{"w":19708,"f":1.0},{"w":19717,"f":1.0},{"w":19725,"f":0.995},{"w":19733,"f":1.0},{"w":19742,"f":0.998},{"w":19750,"f":1.0},{"w":19760,"f":1.0},{"w":19770,"f":0.995},{"w":19776,"f":0.97},{"w":19780,"f":0.985},{"w":19786,"f":0.995},{"w":19795,"f":1.0},{"w":19805,"f":0.998},{"w":19815,"f":1.0},{"w":19825,"f":1.002},{"w":19835,"f":0.998},{"w":19850,"f":1.0}],
"s4": [{"w":20300,"f":1.0},{"w":20306,"f":0.995},{"w":20312,"f":1.005},{"w":20318,"f":1.0},{"w":20326,"f":1.005},{"w":20333,"f":1.01},{"w":20337,"f":1.04},{"w":20340,"f":1.0},{"w":20348,"f":1.005},{"w":20352,"f":1.01},{"w":20358,"f":1.02},{"w":20365,"f":1.01},{"w":20370,"f":1.005},{"w":20375,"f":1.0},{"w":20380,"f":0.995},{"w":20385,"f":0.995},{"w":20390,"f":0.99},{"w":20395,"f":0.99},{"w":20400,"f":0.985},{"w":20405,"f":0.995},{"w":20410,"f":0.98},{"w":20414,"f":0.975},{"w":20416,"f":0.97},{"w":20418,"f":1.055},{"w":20421,"f":0.96},{"w":20423,"f":0.985},{"w":20425,"f":0.91},{"w":20430,"f":0.915},{"w":20436,"f":0.905},{"w":20442,"f":0.895},{"w":20448,"f":0.88},{"w":20454,"f":0.87},{"w":20460,"f":0.86},{"w":20466,"f":0.85},{"w":20470,"f":0.835},{"w":20474,"f":0.8},{"w":20478,"f":0.775},{"w":20482,"f":0.745},{"w":20485,"f":0.73},{"w":20490,"f":0.73},{"w":20494,"f":0.745},{"w":20497,"f":0.76},{"w":20502,"f":0.79},{"w":20507,"f":0.81},{"w":20510,"f":0.83},{"w":20514,"f":0.85},{"w":20518,"f":0.87},{"w":20522,"f":0.89},{"w":20526,"f":0.885},{"w":20529,"f":0.89},{"w":20532,"f":0.83},{"w":20535,"f":0.88},{"w":20540,"f":0.9},{"w":20544,"f":0.92},{"w":20548,"f":0.94},{"w":20552,"f":0.97},{"w":20555,"f":0.99},{"w":20558,"f":1.01},{"w":20560,"f":1.06},{"w":20563,"f":1.38},{"w":20565,"f":1.12},{"w":20568,"f":1.18},{"w":20571,"f":1.2},{"w":20574,"f":1.27},{"w":20577,"f":1.29},{"w":20580,"f":1.28},{"w":20583,"f":1.32},{"w":20587,"f":1.33},{"w":20592,"f":1.35},{"w":20597,"f":1.37},{"w":20603,"f":1.38},{"w":20608,"f":1.39},{"w":20612,"f":1.41},{"w":20617,"f":1.42},{"w":20620,"f":1.43},{"w":20622,"f":1.44},{"w":20626,"f":1.42},{"w":20631,"f":1.4},{"w":20635,"f":1.41},{"w":20638,"f":1.43},{"w":20641,"f":1.38},{"w":20645,"f":1.35},{"w":20650,"f":1.32},{"w":20655,"f":1.29},{"w":20659,"f":1.26},{"w":20663,"f":1.25},{"w":20668,"f":1.22},{"w":20673,"f":1.2},{"w":20678,"f":1.18},{"w":20683,"f":1.17},{"w":20687,"f":1.15},{"w":20692,"f":1.12},{"w":20697,"f":1.1},{"w":20701,"f":1.09},{"w":20706,"f":1.07},{"w":20711,"f":1.06},{"w":20715,"f":1.055},{"w":20720,"f":1.05},{"w":20725,"f":1.04},{"w":20730,"f":1.045},{"w":20735,"f":1.03},{"w":20740,"f":1.035},{"w":20745,"f":1.025},{"w":20750,"f":1.025},{"w":20757,"f":1.02},{"w":20764,"f":1.025},{"w":20771,"f":1.015},{"w":20778,"f":1.02},{"w":20785,"f":1.015},{"w":20792,"f":1.02},{"w":20800,"f":1.02},{"w":20807,"f":1.015},{"w":20814,"f":1.025},{"w":20821,"f":1.015},{"w":20828,"f":1.02},{"w":20835,"f":1.025},{"w":20842,"f":1.03},{"w":20849,"f":1.015},{"w":20856,"f":1.02},{"w":20863,"f":1.025},{"w":20870,"f":1.02},{"w":20876,"f":1.015},{"w":20882,"f":1.025},{"w":20888,"f":1.01},{"w":20894,"f":1.03},{"w":20898,"f":1.055},{"w":20901,"f":0.99},{"w":20906,"f":1.01},{"w":20912,"f":1.005},{"w":20918,"f":1.01},{"w":20926,"f":1.01},{"w":20933,"f":1.005},{"w":20940,"f":1.0},{"w":20947,"f":0.995},{"w":20954,"f":0.99},{"w":20961,"f":0.99},{"w":20968,"f":0.985},{"w":20975,"f":0.985},{"w":20982,"f":0.98},{"w":20990,"f":0.98},{"w":20997,"f":0.975},{"w":21004,"f":0.975},{"w":21010,"f":0.97},{"w":21017,"f":0.97},{"w":21024,"f":0.975},{"w":21031,"f":0.97},{"w":21039,"f":0.97},{"w":21046,"f":0.97},{"w":21051,"f":0.975},{"w":21054,"f":1.03},{"w":21056,"f":0.96},{"w":21060,"f":0.965},{"w":21066,"f":0.975},{"w":21070,"f":0.97},{"w":21074,"f":0.97},{"w":21080,"f":0.965},{"w":21086,"f":0.955},{"w":21091,"f":0.95},{"w":21096,"f":0.96},{"w":21100,"f":0.975},{"w":21103,"f":0.98},{"w":21105,"f":1.055},{"w":21108,"f":1.0},{"w":21113,"f":1.01},{"w":21118,"f":1.02},{"w":21123,"f":1.025},{"w":21127,"f":1.02},{"w":21131,"f":0.89},{"w":21134,"f":1.03},{"w":21140,"f":1.035},{"w":21146,"f":1.04},{"w":21151,"f":1.04},{"w":21158,"f":1.045},{"w":21165,"f":1.045},{"w":21172,"f":1.04},{"w":21178,"f":1.04},{"w":21180,"f":0.99},{"w":21182,"f":1.035},{"w":21188,"f":1.03},{"w":21193,"f":1.03},{"w":21200,"f":1.02},{"w":21207,"f":1.015},{"w":21214,"f":1.015},{"w":21221,"f":1.01},{"w":21228,"f":1.01},{"w":21235,"f":1.005},{"w":21243,"f":1.005},{"w":21250,"f":1.0},{"w":21258,"f":0.995},{"w":21266,"f":1.0},{"w":21275,"f":0.995},{"w":21283,"f":0.995},{"w":21291,"f":0.99},{"w":21300,"f":0.995},{"w":21308,"f":0.99},{"w":21315,"f":0.995},{"w":21322,"f":0.99},{"w":21330,"f":0.995},{"w":21338,"f":1.0},{"w":21347,"f":1.01},{"w":21355,"f":1.005},{"w":21363,"f":1.005},{"w":21371,"f":1.01},{"w":21379,"f":1.01},{"w":21387,"f":1.015},{"w":21395,"f":1.015},{"w":21403,"f":1.02},{"w":21411,"f":1.015},{"w":21419,"f":1.02},{"w":21427,"f":1.015},{"w":21436,"f":1.02},{"w":21445,"f":1.02},{"w":21453,"f":1.02},{"w":21461,"f":1.025},{"w":21469,"f":1.02},{"w":21477,"f":1.025},{"w":21485,"f":1.02},{"w":21494,"f":1.025},{"w":21498,"f":1.02},{"w":21501,"f":0.99},{"w":21505,"f":1.015},{"w":21512,"f":1.02},{"w":21518,"f":1.02},{"w":21524,"f":1.025},{"w":21530,"f":1.025},{"w":21536,"f":1.03},{"w":21542,"f":1.03},{"w":21547,"f":1.03},{"w":21550,"f":1.02},{"w":21552,"f":0.95},{"w":21555,"f":1.02},{"w":21558,"f":1.04},{"w":21563,"f":1.045},{"w":21568,"f":1.05},{"w":21573,"f":1.055},{"w":21577,"f":1.06},{"w":21579,"f":1.03},{"w":21582,"f":1.06},{"w":21586,"f":1.09},{"w":21589,"f":1.1},{"w":21593,"f":1.11},{"w":21596,"f":1.115},{"w":21600,"f":1.11},{"w":21604,"f":1.1},{"w":21607,"f":1.1},{"w":21612,"f":1.11},{"w":21617,"f":1.12},{"w":21621,"f":1.13},{"w":21624,"f":1.14},{"w":21628,"f":1.18},{"w":21632,"f":1.22},{"w":21635,"f":1.25},{"w":21640,"f":1.29},{"w":21646,"f":1.33},{"w":21651,"f":1.35},{"w":21656,"f":1.37},{"w":21660,"f":1.38},{"w":21664,"f":1.42},{"w":21668,"f":1.45},{"w":21670,"f":1.46},{"w":21676,"f":1.465},{"w":21680,"f":1.47},{"w":21684,"f":1.47},{"w":21688,"f":1.475},{"w":21692,"f":1.48},{"w":21695,"f":1.485},{"w":21699,"f":1.47},{"w":21702,"f":1.46},{"w":21705,"f":1.43},{"w":21709,"f":1.4},{"w":21713,"f":1.38},{"w":21716,"f":1.37},{"w":21719,"f":1.35},{"w":21724,"f":1.32},{"w":21729,"f":1.29},{"w":21733,"f":1.27},{"w":21738,"f":1.25},{"w":21743,"f":1.22},{"w":21748,"f":1.2},{"w":21753,"f":1.17},{"w":21757,"f":1.15},{"w":21762,"f":1.13},{"w":21767,"f":1.12},{"w":21771,"f":1.11},{"w":21776,"f":1.1},{"w":21782,"f":1.09},{"w":21788,"f":1.085},{"w":21793,"f":1.08},{"w":21800,"f":1.07},{"w":21806,"f":1.065},{"w":21811,"f":1.06},{"w":21818,"f":1.055},{"w":21825,"f":1.05},{"w":21832,"f":1.045},{"w":21839,"f":1.045},{"w":21846,"f":1.04},{"w":21852,"f":1.04},{"w":21855,"f":1.035},{"w":21857,"f":1.07},{"w":21860,"f":1.035},{"w":21866,"f":1.03},{"w":21873,"f":1.03},{"w":21880,"f":1.025},{"w":21888,"f":1.02},{"w":21895,"f":1.02},{"w":21902,"f":1.015},{"w":21909,"f":1.01},{"w":21913,"f":1.01},{"w":21915,"f":0.96},{"w":21918,"f":1.01},{"w":21925,"f":1.005},{"w":21931,"f":1.01},{"w":21937,"f":1.01},{"w":21944,"f":1.015},{"w":21948,"f":1.01},{"w":21950,"f":1.04},{"w":21953,"f":1.01},{"w":21958,"f":1.01},{"w":21965,"f":1.005},{"w":21971,"f":1.0},{"w":21974,"f":1.0},{"w":21976,"f":5},{"w":21979,"f":1.0},{"w":21981,"f":1.0},{"w":21983,"f":0.91},{"w":21986,"f":1.02},{"w":21990,"f":1.0},{"w":21997,"f":1.01},{"w":22004,"f":1.005},{"w":22011,"f":1.01},{"w":22018,"f":1.01},{"w":22025,"f":1.015},{"w":22030,"f":1.01},{"w":22032,"f":0.98},{"w":22035,"f":1.01},{"w":22043,"f":1.01},{"w":22050,"f":1.015},{"w":22057,"f":1.02},{"w":22064,"f":1.02},{"w":22071,"f":1.03},{"w":22078,"f":1.025},{"w":22085,"f":1.02},{"w":22092,"f":1.02},{"w":22095,"f":1.025},{"w":22097,"f":1.05},{"w":22100,"f":1.015},{"w":22106,"f":1.01},{"w":22113,"f":1.01},{"w":22120,"f":1.01},{"w":22127,"f":1.005},{"w":22134,"f":1.005},{"w":22141,"f":1.0},{"w":22148,"f":1.0},{"w":22155,"f":0.995},{"w":22162,"f":1.0},{"w":22169,"f":1.0},{"w":22176,"f":0.995},{"w":22183,"f":1.0},{"w":22190,"f":0.995},{"w":22197,"f":1.0},{"w":22204,"f":0.99},{"w":22211,"f":0.995},{"w":22218,"f":0.99},{"w":22225,"f":0.995},{"w":22232,"f":1.0},{"w":22240,"f":0.99},{"w":22249,"f":1.0}],
"s5": [{"w":23300,"f":0.99},{"w":23306,"f":1.0},{"w":23312,"f":0.995},{"w":23318,"f":1.005},{"w":23325,"f":1.01},{"w":23329,"f":1.0},{"w":23333,"f":0.995},{"w":23338,"f":1.005},{"w":23344,"f":1.01},{"w":23348,"f":0.998},{"w":23351,"f":1.0},{"w":23355,"f":0.965},{"w":23357,"f":1.09},{"w":23360,"f":1.01},{"w":23363,"f":0.995},{"w":23367,"f":1.0},{"w":23371,"f":1.0},{"w":23375,"f":1.005},{"w":23379,"f":1.005},{"w":23383,"f":0.995},{"w":23386,"f":1.005},{"w":23389,"f":1.0},{"w":23393,"f":0.99},{"w":23396,"f":0.5},{"w":23400,"f":1.03},{"w":23403,"f":0.99},{"w":23407,"f":1.0},{"w":23411,"f":1.01},{"w":23414,"f":1.0},{"w":23418,"f":1.02},{"w":23422,"f":1.01},{"w":23427,"f":1.0},{"w":23431,"f":1.01},{"w":23435,"f":1.02},{"w":23439,"f":1.01},{"w":23445,"f":1.005},{"w":23450,"f":1.005},{"w":23456,"f":1.0},{"w":23459,"f":0.995},{"w":23462,"f":0.5},{"w":23467,"f":0.99},{"w":23469,"f":1.015},{"w":23472,"f":1.015},{"w":23475,"f":0.99},{"w":23477,"f":0.99},{"w":23481,"f":1.005},{"w":23485,"f":1.0},{"w":23488,"f":1.005},{"w":23490,"f":1.02},{"w":23492,"f":0.99},{"w":23495,"f":1.205},{"w":23499,"f":0.97},{"w":23502,"f":1.03},{"w":23505,"f":1.01},{"w":23509,"f":1.005},{"w":23513,"f":0.995},{"w":23516,"f":1.005},{"w":23520,"f":1.0},{"w":23524,"f":0.995},{"w":23528,"f":1.005},{"w":23531,"f":1.01},{"w":23535,"f":0.995},{"w":23538,"f":1.0},{"w":23541,"f":0.99},{"w":23545,"f":1.005},{"w":23549,"f":1.005},{"w":23552,"f":0.995},{"w":23556,"f":1.06},{"w":23560,"f":0.995},{"w":23564,"f":1.005},{"w":23567,"f":1.0},{"w":23571,"f":1.01},{"w":23575,"f":1.005},{"w":23578,"f":0.995},{"w":23581,"f":0.99},{"w":23585,"f":1.065},{"w":23588,"f":0.99},{"w":23592,"f":1.005},{"w":23595,"f":1.01},{"w":23599,"f":1.015},{"w":23603,"f":1.01},{"w":23606,"f":0.995},{"w":23608,"f":0.98},{"w":23612,"f":1.05},{"w":23616,"f":0.995},{"w":23620,"f":1.0},{"w":23623,"f":0.995},{"w":23627,"f":1.0},{"w":23631,"f":1.005},{"w":23633,"f":0.995},{"w":23636,"f":1.02},{"w":23640,"f":1.0},{"w":23643,"f":0.99},{"w":23647,"f":1.005},{"w":23650,"f":1.0},{"w":23653,"f":1.01},{"w":23657,"f":1.0},{"w":23660,"f":1.005},{"w":23663,"f":0.995},{"w":23666,"f":0.985},{"w":23669,"f":0.975},{"w":23673,"f":1.0},{"w":23677,"f":1.02},{"w":23681,"f":1.015},{"w":23684,"f":1.0},{"w":23688,"f":0.995},{"w":23692,"f":1.005},{"w":23695,"f":0.99},{"w":23699,"f":0.965},{"w":23701,"f":1.035},{"w":23704,"f":0.99},{"w":23707,"f":0.97},{"w":23710,"f":1.005},{"w":23712,"f":1.005},{"w":23715,"f":0.985},{"w":23717,"f":0.975},{"w":23721,"f":0.985},{"w":23725,"f":0.995},{"w":23729,"f":1.0},{"w":23733,"f":1.0},{"w":23736,"f":0.995},{"w":23740,"f":1.005},{"w":23744,"f":1.0},{"w":23747,"f":0.99},{"w":23751,"f":1.005},{"w":23755,"f":1.005},{"w":23758,"f":0.995},{"w":23761,"f":1.005},{"w":23765,"f":0.99},{"w":23769,"f":0.995},{"w":23773,"f":0.975},{"w":23777,"f":1.01},{"w":23781,"f":0.995},{"w":23784,"f":0.99},{"w":23787,"f":0.985},{"w":23791,"f":0.985},{"w":23795,"f":0.985},{"w":23800,"f":1.01},{"w":23803,"f":0.99},{"w":23805,"f":0.985},{"w":23809,"f":0.995},{"w":23812,"f":1.0},{"w":23816,"f":1.0},{"w":23820,"f":0.995},{"w":23824,"f":0.985},{"w":23827,"f":0.97},{"w":23830,"f":1.015},{"w":23833,"f":0.95},{"w":23836,"f":1.04},{"w":23839,"f":1.0},{"w":23841,"f":0.995},{"w":23845,"f":1.005},{"w":23848,"f":0.99},{"w":23852,"f":0.975},{"w":23856,"f":1.005},{"w":23860,"f":0.99},{"w":23864,"f":0.99},{"w":23867,"f":0.99},{"w":23871,"f":0.992},{"w":23874,"f":0.995},{"w":23877,"f":0.995},{"w":23880,"f":1.015},{"w":23883,"f":0.5},{"w":23886,"f":0.99},{"w":23888,"f":0.99},{"w":23892,"f":0.5},{"w":23894,"f":0.99},{"w":23896,"f":0.5},{"w":23900,"f":1.075},{"w":23903,"f":0.985},{"w":23907,"f":0.99},{"w":23910,"f":1.1},{"w":23911,"f":5},{"w":23913,"f":1.0},{"w":23915,"f":1.005},{"w":23919,"f":1.01},{"w":23923,"f":1.01},{"w":23926,"f":1.0},{"w":23928,"f":0.99},{"w":23931,"f":1.02},{"w":23933,"f":1.01},{"w":23936,"f":0.99},{"w":23939,"f":1.14},{"w":23943,"f":0.995},{"w":23946,"f":1.0},{"w":23949,"f":1.01},{"w":23953,"f":1.005},{"w":23957,"f":0.995},{"w":23960,"f":1.0},{"w":23963,"f":1.035},{"w":23966,"f":1.01},{"w":23968,"f":1.02},{"w":23971,"f":0.965},{"w":23974,"f":1.03},{"w":23977,"f":1.01},{"w":23979,"f":1.0},{"w":23984,"f":1.0},{"w":23989,"f":1.005},{"w":23995,"f":1.005},{"w":24000,"f":1.01},{"w":24004,"f":1.015},{"w":24008,"f":1.02},{"w":24011,"f":1.015},{"w":24013,"f":1.03},{"w":24016,"f":1.025},{"w":24018,"f":1.05},{"w":24021,"f":1.04},{"w":24023,"f":1.035},{"w":24025,"f":1.03},{"w":24027,"f":1.06},{"w":24030,"f":1.02},{"w":24033,"f":0.985},{"w":24037,"f":1.08},{"w":24040,"f":1.08},{"w":24044,"f":1.03},{"w":24046,"f":1.02},{"w":24048,"f":1.01},{"w":24051,"f":1.045},{"w":24054,"f":1.02},{"w":24056,"f":1.0},{"w":24058,"f":1.02},{"w":24060,"f":1.04},{"w":24062,"f":1.01},{"w":24064,"f":1.0},{"w":24068,"f":1.05},{"w":24071,"f":1.03},{"w":24073,"f":1.055},{"w":24076,"f":1.03},{"w":24078,"f":1.02},{"w":24082,"f":1.01},{"w":24086,"f":1.0},{"w":24090,"f":0.98},{"w":24093,"f":1.07},{"w":24097,"f":1.01},{"w":24100,"f":1.02},{"w":24104,"f":1.02},{"w":24107,"f":1.01},{"w":24110,"f":1.03},{"w":24113,"f":1.015},{"w":24115,"f":1.01},{"w":24119,"f":1.005},{"w":24123,"f":0.99},{"w":24127,"f":0.995},{"w":24130,"f":0.975},{"w":24133,"f":1.01},{"w":24136,"f":0.5},{"w":24138,"f":1.055},{"w":24142,"f":1.01},{"w":24145,"f":1.015},{"w":24147,"f":1.01},{"w":24151,"f":0.96},{"w":24154,"f":0.955},{"w":24156,"f":1.195},{"w":24159,"f":1.05},{"w":24161,"f":1.03},{"w":24164,"f":1.03},{"w":24166,"f":1.03},{"w":24169,"f":1.025},{"w":24173,"f":1.015},{"w":24176,"f":1.0},{"w":24178,"f":0.5},{"w":24181,"f":1.12},{"w":24184,"f":0.95},{"w":24187,"f":1.115},{"w":24191,"f":1.03},{"w":24194,"f":1.01},{"w":24196,"f":0.98},{"w":24199,"f":1.01},{"w":24200,"f":1.02},{"w":24202,"f":0.99},{"w":24204,"f":5},{"w":24206,"f":5},{"w":24208,"f":5},{"w":24210,"f":5},{"w":24212,"f":0.985},{"w":24214,"f":0.98},{"w":24217,"f":1.0},{"w":24220,"f":0.995},{"w":24222,"f":0.99},{"w":24225,"f":0.975},{"w":24227,"f":0.96},{"w":24230,"f":0.975},{"w":24232,"f":0.99},{"w":24235,"f":1.005},{"w":24237,"f":1.01},{"w":24241,"f":0.97},{"w":24245,"f":1.0},{"w":24248,"f":0.995},{"w":24252,"f":0.99},{"w":24254,"f":1.0},{"w":24256,"f":0.94},{"w":24259,"f":1.045},{"w":24261,"f":1.02},{"w":24263,"f":1.01},{"w":24266,"f":0.99},{"w":24268,"f":0.985},{"w":24271,"f":0.995},{"w":24273,"f":1.0},{"w":24277,"f":0.998},{"w":24281,"f":1.005},{"w":24285,"f":1.005},{"w":24289,"f":1.01},{"w":24292,"f":1.02},{"w":24295,"f":1.03},{"w":24298,"f":1.02},{"w":24300,"f":1.025},{"w":24303,"f":1.03},{"w":24305,"f":1.03},{"w":24308,"f":1.02},{"w":24311,"f":1.02},{"w":24313,"f":1.035},{"w":24316,"f":1.03},{"w":24319,"f":1.02},{"w":24321,"f":1.02},{"w":24323,"f":1.01},{"w":24325,"f":1.0},{"w":24328,"f":1.095},{"w":24332,"f":1.035},{"w":24335,"f":1.02},{"w":24338,"f":1.01},{"w":24341,"f":1.02},{"w":24343,"f":1.02},{"w":24346,"f":0.5},{"w":24349,"f":1.26},{"w":24352,"f":1.0},{"w":24355,"f":0.5},{"w":24359,"f":1.1},{"w":24362,"f":1.295},{"w":24365,"f":1.01},{"w":24368,"f":1.0},{"w":24370,"f":0.99},{"w":24373,"f":1.0},{"w":24375,"f":1.01},{"w":24379,"f":1.0},{"w":24383,"f":1.005},{"w":24387,"f":1.0},{"w":24391,"f":1.0},{"w":24395,"f":0.995},{"w":24398,"f":0.99},{"w":24402,"f":1.0},{"w":24405,"f":1.01},{"w":24409,"f":1.0},{"w":24413,"f":1.01},{"w":24416,"f":1.005},{"w":24418,"f":1.0},{"w":24421,"f":0.96},{"w":24424,"f":1.0},{"w":24426,"f":1.01},{"w":24430,"f":1.0},{"w":24434,"f":1.01},{"w":24437,"f":1.0},{"w":24439,"f":0.99},{"w":24442,"f":1.0},{"w":24445,"f":1.0},{"w":24448,"f":0.995},{"w":24450,"f":0.99},{"w":24454,"f":0.5},{"w":24458,"f":1.355},{"w":24462,"f":1.0},{"w":24466,"f":0.97},{"w":24469,"f":1.13},{"w":24472,"f":0.99},{"w":24475,"f":1.09},{"w":24479,"f":1.05},{"w":24482,"f":1.055},{"w":24485,"f":1.05},{"w":24488,"f":1.07},{"w":24490,"f":1.06},{"w":24493,"f":0.5},{"w":24499,"f":1.11},{"w":24504,"f":0.5},{"w":24509,"f":1.315},{"w":24512,"f":1.1},{"w":24514,"f":1.05},{"w":24517,"f":1.04},{"w":24520,"f":1.03},{"w":24523,"f":1.04},{"w":24525,"f":1.035},{"w":24528,"f":1.01},{"w":24530,"f":0.99},{"w":24533,"f":1.0},{"w":24536,"f":1.02},{"w":24538,"f":0.5},{"w":24541,"f":1.19},{"w":24545,"f":1.06},{"w":24548,"f":1.04},{"w":24551,"f":1.02},{"w":24554,"f":0.99},{"w":24557,"f":1.0},{"w":24559,"f":1.0},{"w":24562,"f":0.995},{"w":24565,"f":0.99},{"w":24568,"f":0.995},{"w":24570,"f":1.0},{"w":24573,"f":0.995},{"w":24575,"f":0.99},{"w":24578,"f":0.99},{"w":24581,"f":0.5},{"w":24584,"f":0.99},{"w":24586,"f":1.0},{"w":24590,"f":1.01},{"w":24593,"f":1.01},{"w":24595,"f":0.995},{"w":24597,"f":0.995},{"w":24600,"f":1.0},{"w":24603,"f":1.01},{"w":24606,"f":1.0},{"w":24608,"f":1.0},{"w":24611,"f":1.01},{"w":24613,"f":0.99},{"w":24616,"f":0.98},{"w":24619,"f":0.5},{"w":24621,"f":5},{"w":24623,"f":5},{"w":24625,"f":5},{"w":24627,"f":5},{"w":24630,"f":1.015},{"w":24633,"f":1.01},{"w":24635,"f":1.02},{"w":24637,"f":0.5},{"w":24641,"f":1.13},{"w":24645,"f":1.01},{"w":24648,"f":1.02},{"w":24651,"f":1.015},{"w":24654,"f":1.03},{"w":24656,"f":1.04},{"w":24659,"f":1.04},{"w":24661,"f":1.04},{"w":24663,"f":1.045},{"w":24665,"f":1.045},{"w":24668,"f":1.03},{"w":24670,"f":0.5},{"w":24674,"f":1.34},{"w":24678,"f":1.08},{"w":24680,"f":1.07},{"w":24682,"f":1.07},{"w":24684,"f":1.08},{"w":24686,"f":1.09},{"w":24690,"f":1.095},{"w":24693,"f":1.1},{"w":24696,"f":1.09},{"w":24698,"f":1.08},{"w":24702,"f":1.09},{"w":24705,"f":1.095},{"w":24708,"f":1.08},{"w":24710,"f":1.06},{"w":24713,"f":0.5},{"w":24715,"f":5},{"w":24717,"f":5},{"w":24719,"f":0.5},{"w":24721,"f":5},{"w":24723,"f":5},{"w":24726,"f":5},{"w":24729,"f":1.1},{"w":24731,"f":1.09},{"w":24734,"f":1.09},{"w":24737,"f":1.08},{"w":24740,"f":1.07},{"w":24742,"f":1.06},{"w":24744,"f":1.03},{"w":24746,"f":0.99},{"w":24748,"f":1.05},{"w":24750,"f":1.07},{"w":24753,"f":1.07},{"w":24756,"f":1.05},{"w":24758,"f":1.04},{"w":24761,"f":1.035},{"w":24765,"f":1.03},{"w":24766,"f":0.5},{"w":24770,"f":1.04},{"w":24773,"f":0.99},{"w":24775,"f":1.0},{"w":24777,"f":0.995},{"w":24779,"f":0.5},{"w":24780,"f":0.5}]
},
"vconcat": [
{"width": 1094, "height": 308, "layer": [
 {"data": {"name": "l1"}, "mark": {"type": "rule", "color": "#ff0000", "strokeWidth": 1.4}, "encoding": {"x": {"field": "w", "type": "quantitative", "scale": {"domain": [10400, 13250], "nice": false, "zero": false}, "axis": {"values": [10500,11000,11500,12000,12500,13000], "format": "d", "title": null}}, "y": {"datum": 3.10, "scale": {"domain": [0.55, 3.70], "nice": false, "zero": false}, "axis": {"values": [1.0,1.5,2.0,2.5,3.0,3.5], "format": ".1f", "title": null}}, "y2": {"datum": 3.42}}},
 {"data": {"name": "l1"}, "mark": {"type": "text", "fontSize": 19, "baseline": "alphabetic", "align": "center", "color": "black", "font": "Liberation Serif"}, "encoding": {"x": {"field": "w", "type": "quantitative", "scale": {"domain": [10400, 13250], "nice": false, "zero": false}, "axis": {"values": [10500,11000,11500,12000,12500,13000], "format": "d", "title": null}}, "y": {"datum": 3.48, "scale": {"domain": [0.55, 3.70], "nice": false, "zero": false}, "axis": {"values": [1.0,1.5,2.0,2.5,3.0,3.5], "format": ".1f", "title": null}}, "text": {"field": "n"}}},
 {"data": {"values": [{}]}, "mark": {"type": "rule", "strokeDash": [1.2, 2.4], "strokeWidth": 1, "color": "#333333"}, "encoding": {"y": {"datum": 1, "scale": {"domain": [0.55, 3.70], "nice": false, "zero": false}, "axis": {"values": [1.0,1.5,2.0,2.5,3.0,3.5], "format": ".1f", "title": null}}}},
 {"data": {"name": "s1"}, "mark": {"type": "line", "clip": true, "color": "black", "strokeWidth": 1.3}, "encoding": {"x": {"field": "w", "type": "quantitative", "scale": {"domain": [10400, 13250], "nice": false, "zero": false}, "axis": {"values": [10500,11000,11500,12000,12500,13000], "format": "d", "title": null}}, "y": {"field": "f", "type": "quantitative", "scale": {"domain": [0.55, 3.70], "nice": false, "zero": false}, "axis": {"values": [1.0,1.5,2.0,2.5,3.0,3.5], "format": ".1f", "title": null}}}}
]},
{"width": 1094, "height": 308, "layer": [
 {"data": {"name": "l2"}, "transform": [{"filter": "datum.tier == 'low'"}], "mark": {"type": "rule", "color": "#ff0000", "strokeWidth": 1.4}, "encoding": {"x": {"field": "w", "type": "quantitative", "scale": {"domain": [14400, 17700], "nice": false, "zero": false}, "axis": {"values": [14500,15000,15500,16000,16500,17000,17500], "format": "d", "title": null}}, "y": {"datum": 1.299, "scale": {"domain": [0.93, 1.40], "nice": false, "zero": false}, "axis": {"values": [1.0,1.1,1.2,1.3,1.4], "format": ".1f", "title": null}}, "y2": {"datum": 1.3405}}},
 {"data": {"name": "l2"}, "transform": [{"filter": "datum.tier == 'high'"}], "mark": {"type": "rule", "color": "#ff0000", "strokeWidth": 1.4}, "encoding": {"x": {"field": "w", "type": "quantitative", "scale": {"domain": [14400, 17700], "nice": false, "zero": false}, "axis": {"values": [14500,15000,15500,16000,16500,17000,17500], "format": "d", "title": null}}, "y": {"datum": 1.299, "scale": {"domain": [0.93, 1.40], "nice": false, "zero": false}, "axis": {"values": [1.0,1.1,1.2,1.3,1.4], "format": ".1f", "title": null}}, "y2": {"datum": 1.368}}},
 {"data": {"name": "l2"}, "transform": [{"filter": "datum.tier == 'low'"}], "mark": {"type": "text", "fontSize": 19, "baseline": "alphabetic", "align": "center", "color": "black", "font": "Liberation Serif"}, "encoding": {"x": {"field": "w", "type": "quantitative", "scale": {"domain": [14400, 17700], "nice": false, "zero": false}, "axis": {"values": [14500,15000,15500,16000,16500,17000,17500], "format": "d", "title": null}}, "y": {"datum": 1.349, "scale": {"domain": [0.93, 1.40], "nice": false, "zero": false}, "axis": {"values": [1.0,1.1,1.2,1.3,1.4], "format": ".1f", "title": null}}, "text": {"field": "n"}}},
 {"data": {"name": "l2"}, "transform": [{"filter": "datum.tier == 'high'"}], "mark": {"type": "text", "fontSize": 19, "baseline": "alphabetic", "align": "center", "color": "black", "font": "Liberation Serif"}, "encoding": {"x": {"field": "w", "type": "quantitative", "scale": {"domain": [14400, 17700], "nice": false, "zero": false}, "axis": {"values": [14500,15000,15500,16000,16500,17000,17500], "format": "d", "title": null}}, "y": {"datum": 1.377, "scale": {"domain": [0.93, 1.40], "nice": false, "zero": false}, "axis": {"values": [1.0,1.1,1.2,1.3,1.4], "format": ".1f", "title": null}}, "text": {"field": "n"}}},
 {"data": {"values": [{}]}, "mark": {"type": "rule", "strokeDash": [1.2, 2.4], "strokeWidth": 1, "color": "#333333"}, "encoding": {"y": {"datum": 1, "scale": {"domain": [0.93, 1.40], "nice": false, "zero": false}, "axis": {"values": [1.0,1.1,1.2,1.3,1.4], "format": ".1f", "title": null}}}},
 {"data": {"name": "s2"}, "mark": {"type": "line", "clip": true, "color": "black", "strokeWidth": 1.3}, "encoding": {"x": {"field": "w", "type": "quantitative", "scale": {"domain": [14400, 17700], "nice": false, "zero": false}, "axis": {"values": [14500,15000,15500,16000,16500,17000,17500], "format": "d", "title": null}}, "y": {"field": "f", "type": "quantitative", "scale": {"domain": [0.93, 1.40], "nice": false, "zero": false}, "axis": {"values": [1.0,1.1,1.2,1.3,1.4], "format": ".1f", "title": null}}}}
]},
{"width": 1094, "height": 308, "layer": [
 {"data": {"name": "l3"}, "mark": {"type": "rule", "color": "#ff0000", "strokeWidth": 1.4}, "encoding": {"x": {"field": "w", "type": "quantitative", "scale": {"domain": [17720, 19850], "nice": false, "zero": false}, "axis": {"values": [17750,18000,18250,18500,18750,19000,19250,19500,19750], "format": "d", "title": null}}, "y": {"datum": 2.767, "scale": {"domain": [0.85, 3.20], "nice": false, "zero": false}, "axis": {"values": [1.0,1.5,2.0,2.5,3.0], "format": ".1f", "title": "Normalised flux", "titlePadding": 10}}, "y2": {"datum": 2.937}}},
 {"data": {"name": "l3"}, "mark": {"type": "text", "fontSize": 19, "baseline": "alphabetic", "align": "center", "color": "black", "font": "Liberation Serif"}, "encoding": {"x": {"field": "w", "type": "quantitative", "scale": {"domain": [17720, 19850], "nice": false, "zero": false}, "axis": {"values": [17750,18000,18250,18500,18750,19000,19250,19500,19750], "format": "d", "title": null}}, "y": {"datum": 3.02, "scale": {"domain": [0.85, 3.20], "nice": false, "zero": false}, "axis": {"values": [1.0,1.5,2.0,2.5,3.0], "format": ".1f", "title": "Normalised flux", "titlePadding": 10}}, "text": {"field": "n"}}},
 {"data": {"values": [{}]}, "mark": {"type": "rule", "strokeDash": [1.2, 2.4], "strokeWidth": 1, "color": "#333333"}, "encoding": {"y": {"datum": 1, "scale": {"domain": [0.85, 3.20], "nice": false, "zero": false}, "axis": {"values": [1.0,1.5,2.0,2.5,3.0], "format": ".1f", "title": "Normalised flux", "titlePadding": 10}}}},
 {"data": {"name": "s3"}, "mark": {"type": "line", "clip": true, "color": "black", "strokeWidth": 1.3}, "encoding": {"x": {"field": "w", "type": "quantitative", "scale": {"domain": [17720, 19850], "nice": false, "zero": false}, "axis": {"values": [17750,18000,18250,18500,18750,19000,19250,19500,19750], "format": "d", "title": null}}, "y": {"field": "f", "type": "quantitative", "scale": {"domain": [0.85, 3.20], "nice": false, "zero": false}, "axis": {"values": [1.0,1.5,2.0,2.5,3.0], "format": ".1f", "title": "Normalised flux", "titlePadding": 10}}}}
]},
{"width": 1094, "height": 308, "layer": [
 {"data": {"name": "l4"}, "mark": {"type": "rule", "color": "#ff0000", "strokeWidth": 1.4}, "encoding": {"x": {"field": "w", "type": "quantitative", "scale": {"domain": [20300, 22250], "nice": false, "zero": false}, "axis": {"values": [20500,20750,21000,21250,21500,21750,22000,22250], "format": "d", "title": null}}, "y": {"datum": 1.427, "scale": {"domain": [0.69, 1.60], "nice": false, "zero": false}, "axis": {"values": [0.8,1.0,1.2,1.4,1.6], "format": ".1f", "title": null}}, "y2": {"datum": 1.517}}},
 {"data": {"name": "l4"}, "mark": {"type": "text", "fontSize": 19, "baseline": "alphabetic", "align": "center", "color": "black", "font": "Liberation Serif"}, "encoding": {"x": {"field": "w", "type": "quantitative", "scale": {"domain": [20300, 22250], "nice": false, "zero": false}, "axis": {"values": [20500,20750,21000,21250,21500,21750,22000,22250], "format": "d", "title": null}}, "y": {"datum": 1.536, "scale": {"domain": [0.69, 1.60], "nice": false, "zero": false}, "axis": {"values": [0.8,1.0,1.2,1.4,1.6], "format": ".1f", "title": null}}, "text": {"field": "n"}}},
 {"data": {"values": [{}]}, "mark": {"type": "rule", "strokeDash": [1.2, 2.4], "strokeWidth": 1, "color": "#333333"}, "encoding": {"y": {"datum": 1, "scale": {"domain": [0.69, 1.60], "nice": false, "zero": false}, "axis": {"values": [0.8,1.0,1.2,1.4,1.6], "format": ".1f", "title": null}}}},
 {"data": {"name": "s4"}, "mark": {"type": "line", "clip": true, "color": "black", "strokeWidth": 1.3}, "encoding": {"x": {"field": "w", "type": "quantitative", "scale": {"domain": [20300, 22250], "nice": false, "zero": false}, "axis": {"values": [20500,20750,21000,21250,21500,21750,22000,22250], "format": "d", "title": null}}, "y": {"field": "f", "type": "quantitative", "scale": {"domain": [0.69, 1.60], "nice": false, "zero": false}, "axis": {"values": [0.8,1.0,1.2,1.4,1.6], "format": ".1f", "title": null}}}}
]},
{"width": 1094, "height": 308, "layer": [
 {"data": {"name": "l5"}, "mark": {"type": "rule", "color": "#ff0000", "strokeWidth": 1.4}, "encoding": {"x": {"field": "w", "type": "quantitative", "scale": {"domain": [23300, 24780], "nice": false, "zero": false}, "axis": {"values": [23400,23600,23800,24000,24200,24400,24600], "format": "d", "title": "Wavelength (Å)", "titlePadding": 8}}, "y": {"datum": 1.273, "scale": {"domain": [0.93, 1.40], "nice": false, "zero": false}, "axis": {"values": [1.0,1.1,1.2,1.3,1.4], "format": ".1f", "title": null}}, "y2": {"datum": 1.3525}}},
 {"data": {"name": "l5"}, "mark": {"type": "text", "fontSize": 19, "baseline": "alphabetic", "align": "center", "color": "black", "font": "Liberation Serif"}, "encoding": {"x": {"field": "w", "type": "quantitative", "scale": {"domain": [23300, 24780], "nice": false, "zero": false}, "axis": {"values": [23400,23600,23800,24000,24200,24400,24600], "format": "d", "title": "Wavelength (Å)", "titlePadding": 8}}, "y": {"datum": 1.360, "scale": {"domain": [0.93, 1.40], "nice": false, "zero": false}, "axis": {"values": [1.0,1.1,1.2,1.3,1.4], "format": ".1f", "title": null}}, "text": {"field": "n"}}},
 {"data": {"values": [{}]}, "mark": {"type": "rule", "strokeDash": [1.2, 2.4], "strokeWidth": 1, "color": "#333333"}, "encoding": {"y": {"datum": 1, "scale": {"domain": [0.93, 1.40], "nice": false, "zero": false}, "axis": {"values": [1.0,1.1,1.2,1.3,1.4], "format": ".1f", "title": null}}}},
 {"data": {"name": "s5"}, "mark": {"type": "line", "clip": true, "color": "black", "strokeWidth": 1.3}, "encoding": {"x": {"field": "w", "type": "quantitative", "scale": {"domain": [23300, 24780], "nice": false, "zero": false}, "axis": {"values": [23400,23600,23800,24000,24200,24400,24600], "format": "d", "title": "Wavelength (Å)", "titlePadding": 8}}, "y": {"field": "f", "type": "quantitative", "scale": {"domain": [0.93, 1.40], "nice": false, "zero": false}, "axis": {"values": [1.0,1.1,1.2,1.3,1.4], "format": ".1f", "title": null}}}}
]}
]
}
